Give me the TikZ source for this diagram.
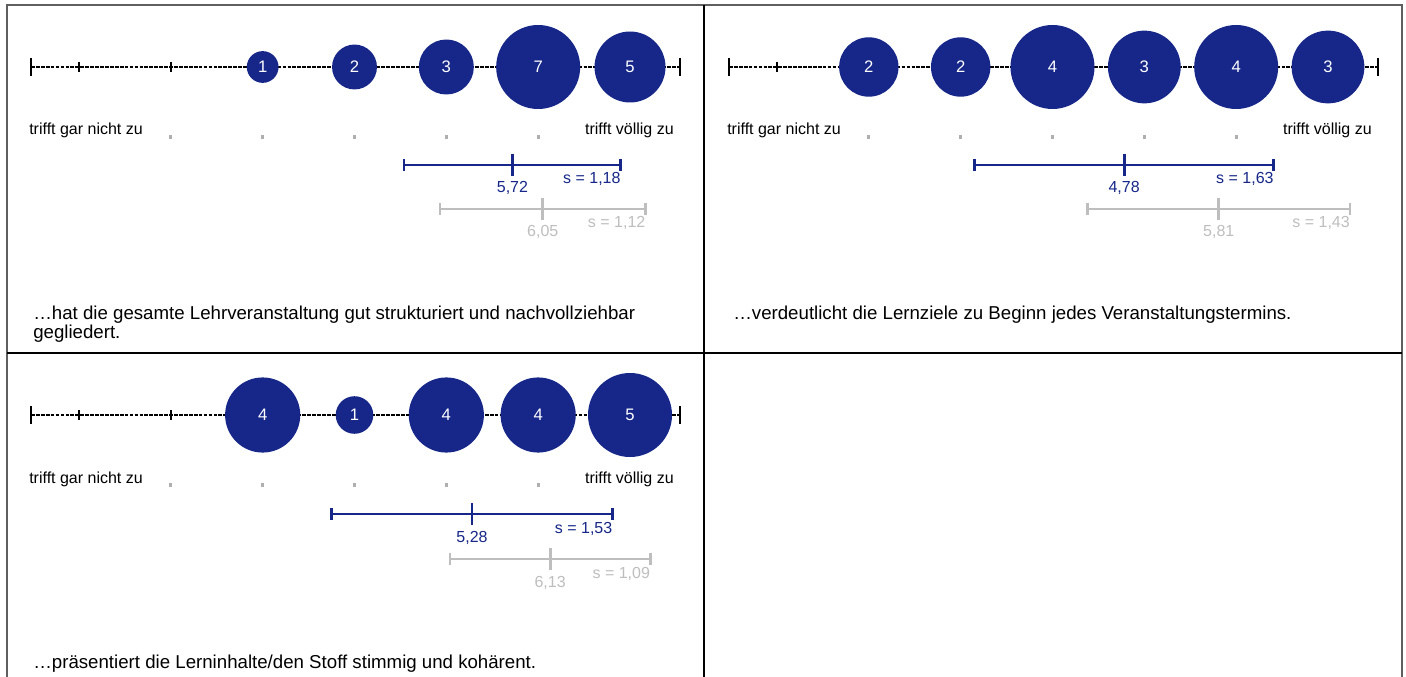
\documentclass[tikz,border=0pt]{standalone}
\usepackage{fontspec}
\setmainfont{Liberation Sans}
\definecolor{navy}{RGB}{22,39,137}
\definecolor{lgray}{RGB}{190,190,190}
\definecolor{dotgray}{RGB}{175,175,175}
\definecolor{framegray}{RGB}{95,95,95}
\tikzset{
  lbl/.style={font=\fontsize{12}{14}\selectfont, inner sep=0pt},
  desc/.style={font=\fontsize{14}{14.25}\selectfont, inner sep=0pt, align=left},
  bubble/.style={circle, fill=navy, text=white, inner sep=0pt, font=\fontsize{12.5}{14}\selectfont},
  axisline/.style={line width=2pt, dash pattern=on 2.8pt off 0.9pt},
  endtick/.style={line width=2pt},
  innertick/.style={line width=1.4pt},
  sbar/.style={line width=2.1pt},
  dotmark/.style={rectangle, fill=dotgray, draw=none, minimum width=2.4pt, minimum height=2.4pt, inner sep=0pt},
  frame/.style={draw=framegray, line width=1.5pt},
  divider/.style={draw=black, line width=0.9pt},
}
\newcommand\panelbase[1]{%
  \coordinate (#1L) at (31,67);
  \coordinate (#1R) at (680,67);
  \draw[axisline] (#1L) -- (#1R);
  \draw[endtick] (31,58) -- (31,76);
  \draw[endtick] (680,58) -- (680,76);
  \foreach \k in {1,...,7}{%
    \pgfmathsetmacro\tx{79+(\k-1)*551/6}
    \draw[innertick] (\tx,62) -- (\tx,72);
  }
  \foreach \k in {2,...,6}{%
    \pgfmathsetmacro\tx{79+(\k-1)*551/6}
    \node[dotmark] (#1d\k) at (\tx,137) {};
  }
  \node[lbl, anchor=base west] (#1lo) at (29,135) {trifft gar nicht zu};
  \node[lbl, anchor=base east] (#1hi) at (674,135) {trifft völlig zu};
}
\newcommand\bubble[4]{%
  \pgfmathsetmacro\bx{79+(#2-1)*551/6}
  \pgfmathsetmacro\bd{84*sqrt(#3/#4)*0.75}
  \node[bubble, minimum size=\bd pt] (#1b#2) at (\bx,67) {#3};
}
\newcommand\statbar[7]{%
  \pgfmathsetmacro\mx{79+(#4-1)*551/6}
  \pgfmathsetmacro\lx{\mx-#5*551/6}
  \pgfmathsetmacro\rx{\mx+#5*551/6}
  \coordinate (#1l) at (\lx,#3);
  \coordinate (#1m) at (\mx,#3);
  \coordinate (#1r) at (\rx,#3);
  \draw[sbar,#2] (#1l) -- (#1r);
  \draw[sbar,#2] (\lx,#3-6) -- (\lx,#3+6);
  \draw[sbar,#2] (\mx,#3-11) -- (\mx,#3+11);
  \draw[sbar,#2] (\rx,#3-6) -- (\rx,#3+6);
  \node[lbl, text=#2, anchor=base] (#1ml) at (\mx,#3+28) {#6};
  \node[lbl, text=#2, anchor=base east] (#1sl) at (\rx,#3+19) {#7};
}
\begin{document}
\begin{tikzpicture}[x=0.75pt,y=-0.75pt]
\clip (0,0) rectangle (1406,677);
\fill[white] (0,0) rectangle (1406,677);
% frame and dividers
\draw[frame] (7,5) rectangle (1402,700);
\draw[divider] (704,5) -- (704,700);
\draw[divider] (7,353) -- (1402,353);
% panel 1
\begin{scope}
  \panelbase{p}
  \bubble{p}{3}{1}{7}
  \bubble{p}{4}{2}{7}
  \bubble{p}{5}{3}{7}
  \bubble{p}{6}{7}{7}
  \bubble{p}{7}{5}{7}
  \statbar{pa}{navy}{165}{5.72}{1.18}{5,72}{s = 1,18}
  \statbar{pg}{lgray}{209}{6.05}{1.12}{6,05}{s = 1,12}
  \node[desc, anchor=base west] (ptext) at (33,339) {…hat die gesamte Lehrveranstaltung gut strukturiert und nachvollziehbar\\gegliedert.};
\end{scope}
% panel 2
\begin{scope}[shift={(698,0)}]
  \panelbase{q}
  \bubble{q}{2}{2}{4}
  \bubble{q}{3}{2}{4}
  \bubble{q}{4}{4}{4}
  \bubble{q}{5}{3}{4}
  \bubble{q}{6}{4}{4}
  \bubble{q}{7}{3}{4}
  \statbar{qa}{navy}{165}{4.78}{1.63}{4,78}{s = 1,63}
  \statbar{qg}{lgray}{209}{5.81}{1.43}{5,81}{s = 1,43}
  \node[desc, anchor=base west] (qtext) at (35,320) {…verdeutlicht die Lernziele zu Beginn jedes Veranstaltungstermins.};
\end{scope}
% panel 3
\begin{scope}[shift={(0,348)}]
  \panelbase{r}
  \bubble{r}{3}{4}{5}
  \bubble{r}{4}{1}{5}
  \bubble{r}{5}{4}{5}
  \bubble{r}{6}{4}{5}
  \bubble{r}{7}{5}{5}
  \statbar{ra}{navy}{166}{5.28}{1.53}{5,28}{s = 1,53}
  \statbar{rg}{lgray}{211}{6.13}{1.09}{6,13}{s = 1,09}
  \node[desc, anchor=base west] (rtext) at (33,320) {…präsentiert die Lerninhalte/den Stoff stimmig und kohärent.};
\end{scope}
\end{tikzpicture}
\end{document}
